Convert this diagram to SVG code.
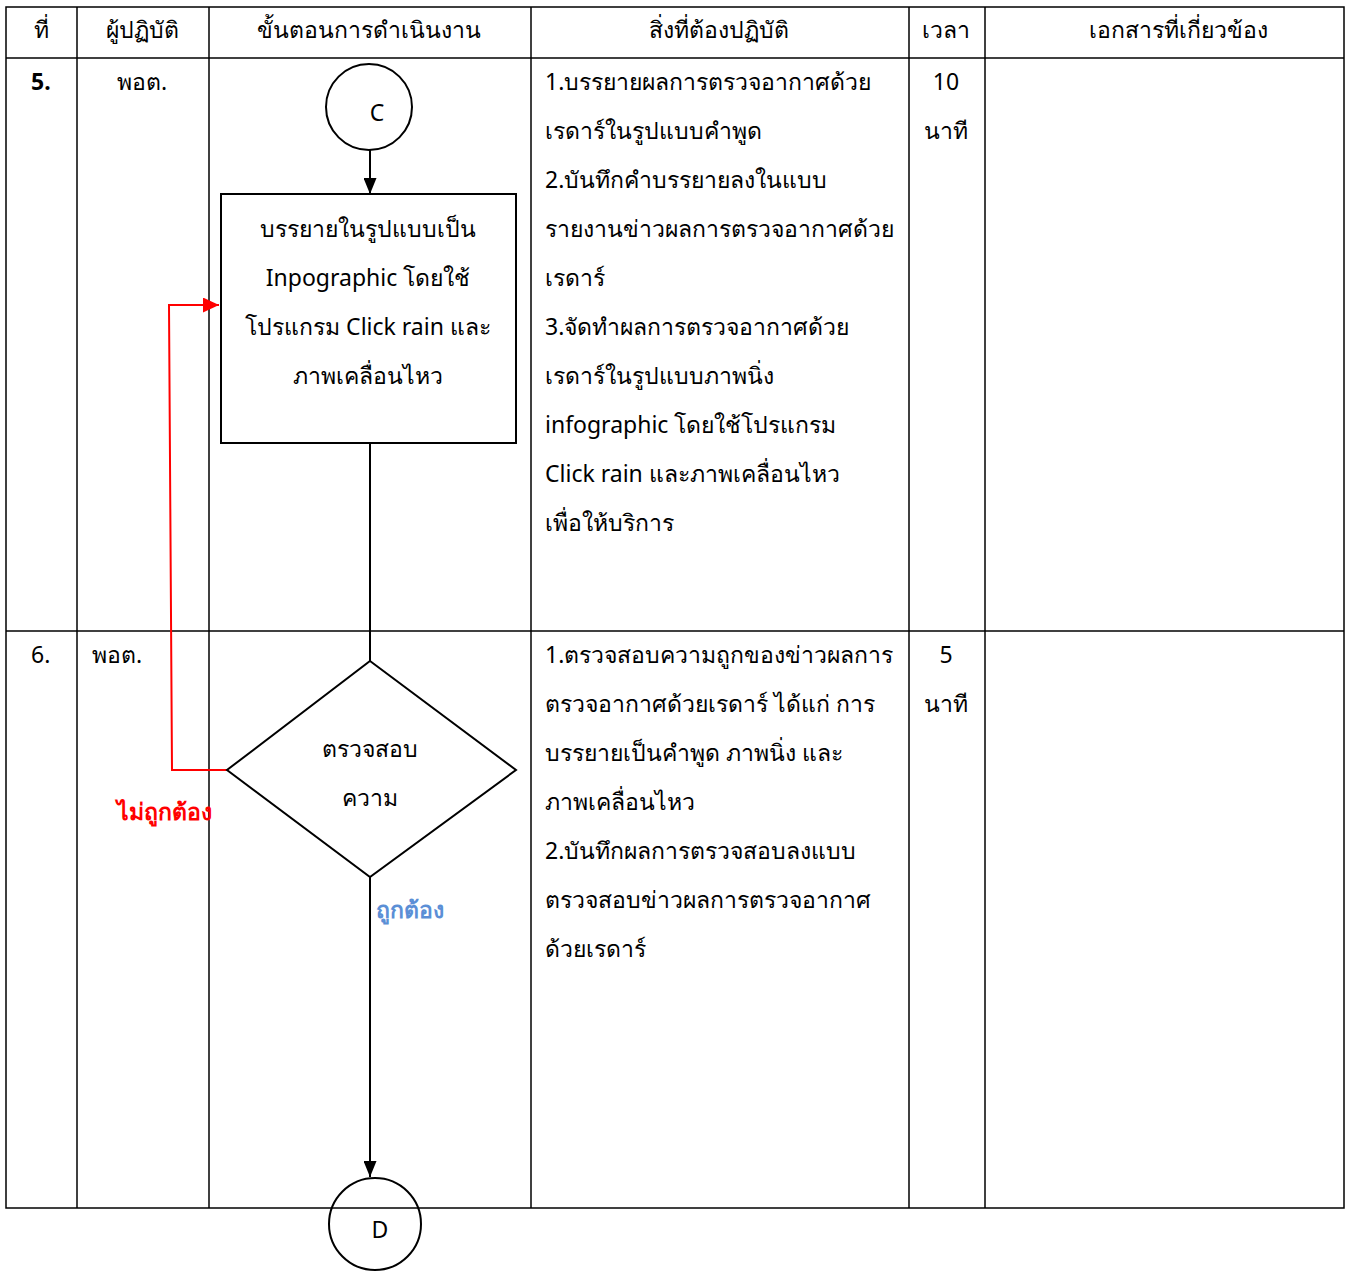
<svg xmlns="http://www.w3.org/2000/svg" width="1354" height="1272" viewBox="0 0 1354 1272">
<style>
text{font-family:"Noto Sans","DejaVu Sans",sans-serif;font-size:23px;fill:#000}
.c{text-anchor:middle}
.grid{stroke:#000;stroke-width:1.5;fill:none}
.ln{stroke:#000;stroke-width:2;fill:none}
.red{stroke:#f00;stroke-width:2;fill:none}
</style>
<defs>
<marker id="ab" markerWidth="16" markerHeight="13" refX="16" refY="6.5" orient="auto" markerUnits="userSpaceOnUse" viewBox="0 0 16 13"><path d="M0,0 L16,6.5 L0,13 z" fill="#000"/></marker>
<marker id="ar" markerWidth="16" markerHeight="15" refX="16" refY="7.5" orient="auto" markerUnits="userSpaceOnUse" viewBox="0 0 16 15"><path d="M0,0 L16,7.5 L0,15 z" fill="#f00"/></marker>
</defs>
<g id="table">
<rect class="grid" x="6" y="7" width="1338" height="1201"/>
<line class="grid" x1="6" y1="58" x2="1344" y2="58"/>
<line class="grid" x1="6" y1="631" x2="1344" y2="631"/>
<line class="grid" x1="77" y1="7" x2="77" y2="1208"/>
<line class="grid" x1="209" y1="7" x2="209" y2="1208"/>
<line class="grid" x1="531" y1="7" x2="531" y2="1208"/>
<line class="grid" x1="909" y1="7" x2="909" y2="1208"/>
<line class="grid" x1="985" y1="7" x2="985" y2="1208"/>
</g>
<g id="header">
<text class="c" x="41" y="38">ที่</text>
<text class="c" x="142" y="38">ผู้ปฏิบัติ</text>
<text class="c" x="369" y="38">ขั้นตอนการดำเนินงาน</text>
<text class="c" x="719" y="38">สิ่งที่ต้องปฏิบัติ</text>
<text class="c" x="946" y="38">เวลา</text>
<text class="c" x="1178" y="38">เอกสารที่เกี่ยวข้อง</text>
</g>
<g id="row5">
<text x="31" y="90" font-weight="bold">5.</text>
<text class="c" x="142" y="90">พอต.</text>
<text class="c" x="946" y="90">10</text>
<text class="c" x="946" y="139">นาที</text>
<text x="545" y="90">1.บรรยายผลการตรวจอากาศด้วย</text>
<text x="545" y="139">เรดาร์ในรูปแบบคำพูด</text>
<text x="545" y="188">2.บันทึกคำบรรยายลงในแบบ</text>
<text x="545" y="237">รายงานข่าวผลการตรวจอากาศด้วย</text>
<text x="545" y="286">เรดาร์</text>
<text x="545" y="335">3.จัดทำผลการตรวจอากาศด้วย</text>
<text x="545" y="384">เรดาร์ในรูปแบบภาพนิ่ง</text>
<text x="545" y="433">infographic  โดยใช้โปรแกรม</text>
<text x="545" y="482">Click rain และภาพเคลื่อนไหว</text>
<text x="545" y="531">เพื่อให้บริการ</text>
</g>
<g id="row6">
<text x="31" y="663">6.</text>
<text x="92" y="663">พอต.</text>
<text class="c" x="946" y="663">5</text>
<text class="c" x="946" y="712">นาที</text>
<text x="545" y="663">1.ตรวจสอบความถูกของข่าวผลการ</text>
<text x="545" y="712">ตรวจอากาศด้วยเรดาร์ ได้แก่ การ</text>
<text x="545" y="761">บรรยายเป็นคำพูด ภาพนิ่ง และ</text>
<text x="545" y="810">ภาพเคลื่อนไหว</text>
<text x="545" y="859">2.บันทึกผลการตรวจสอบลงแบบ</text>
<text x="545" y="908">ตรวจสอบข่าวผลการตรวจอากาศ</text>
<text x="545" y="957">ด้วยเรดาร์</text>
</g>
<g id="connectors">
<line class="ln" x1="370" y1="150" x2="370" y2="194" marker-end="url(#ab)"/>
<line class="ln" x1="370" y1="443" x2="370" y2="661"/>
<line class="ln" x1="370" y1="877" x2="370" y2="1177" marker-end="url(#ab)"/>
<path class="red" d="M227,770 L172,770 L169,305 L219,305" marker-end="url(#ar)"/>
<text x="117" y="820" font-weight="bold" style="fill:#f00">ไม่ถูกต้อง</text>
<text x="376" y="918" font-weight="bold" style="fill:#5b8fd6">ถูกต้อง</text>
</g>
<g id="nodeC">
<circle class="ln" cx="369" cy="107" r="43" fill="#fff"/>
<text class="c" x="377" y="121">C</text>
</g>
<g id="nodeBox">
<rect class="ln" x="221" y="194" width="295" height="249" fill="#fff"/>
<text class="c" x="368" y="237">บรรยายในรูปแบบเป็น</text>
<text class="c" x="368" y="286">Inpographic  โดยใช้</text>
<text class="c" x="368" y="335">โปรแกรม Click rain และ</text>
<text class="c" x="368" y="384">ภาพเคลื่อนไหว</text>
</g>
<g id="nodeDiamond">
<polygon class="ln" points="370,661 516,770 370,877 227,770" fill="#fff"/>
<text class="c" x="370" y="757">ตรวจสอบ</text>
<text class="c" x="370" y="806">ความ</text>
</g>
<g id="nodeD">
<circle class="ln" cx="375" cy="1224" r="46" fill="#fff"/>
<text class="c" x="380" y="1238">D</text>
</g>
</svg>
